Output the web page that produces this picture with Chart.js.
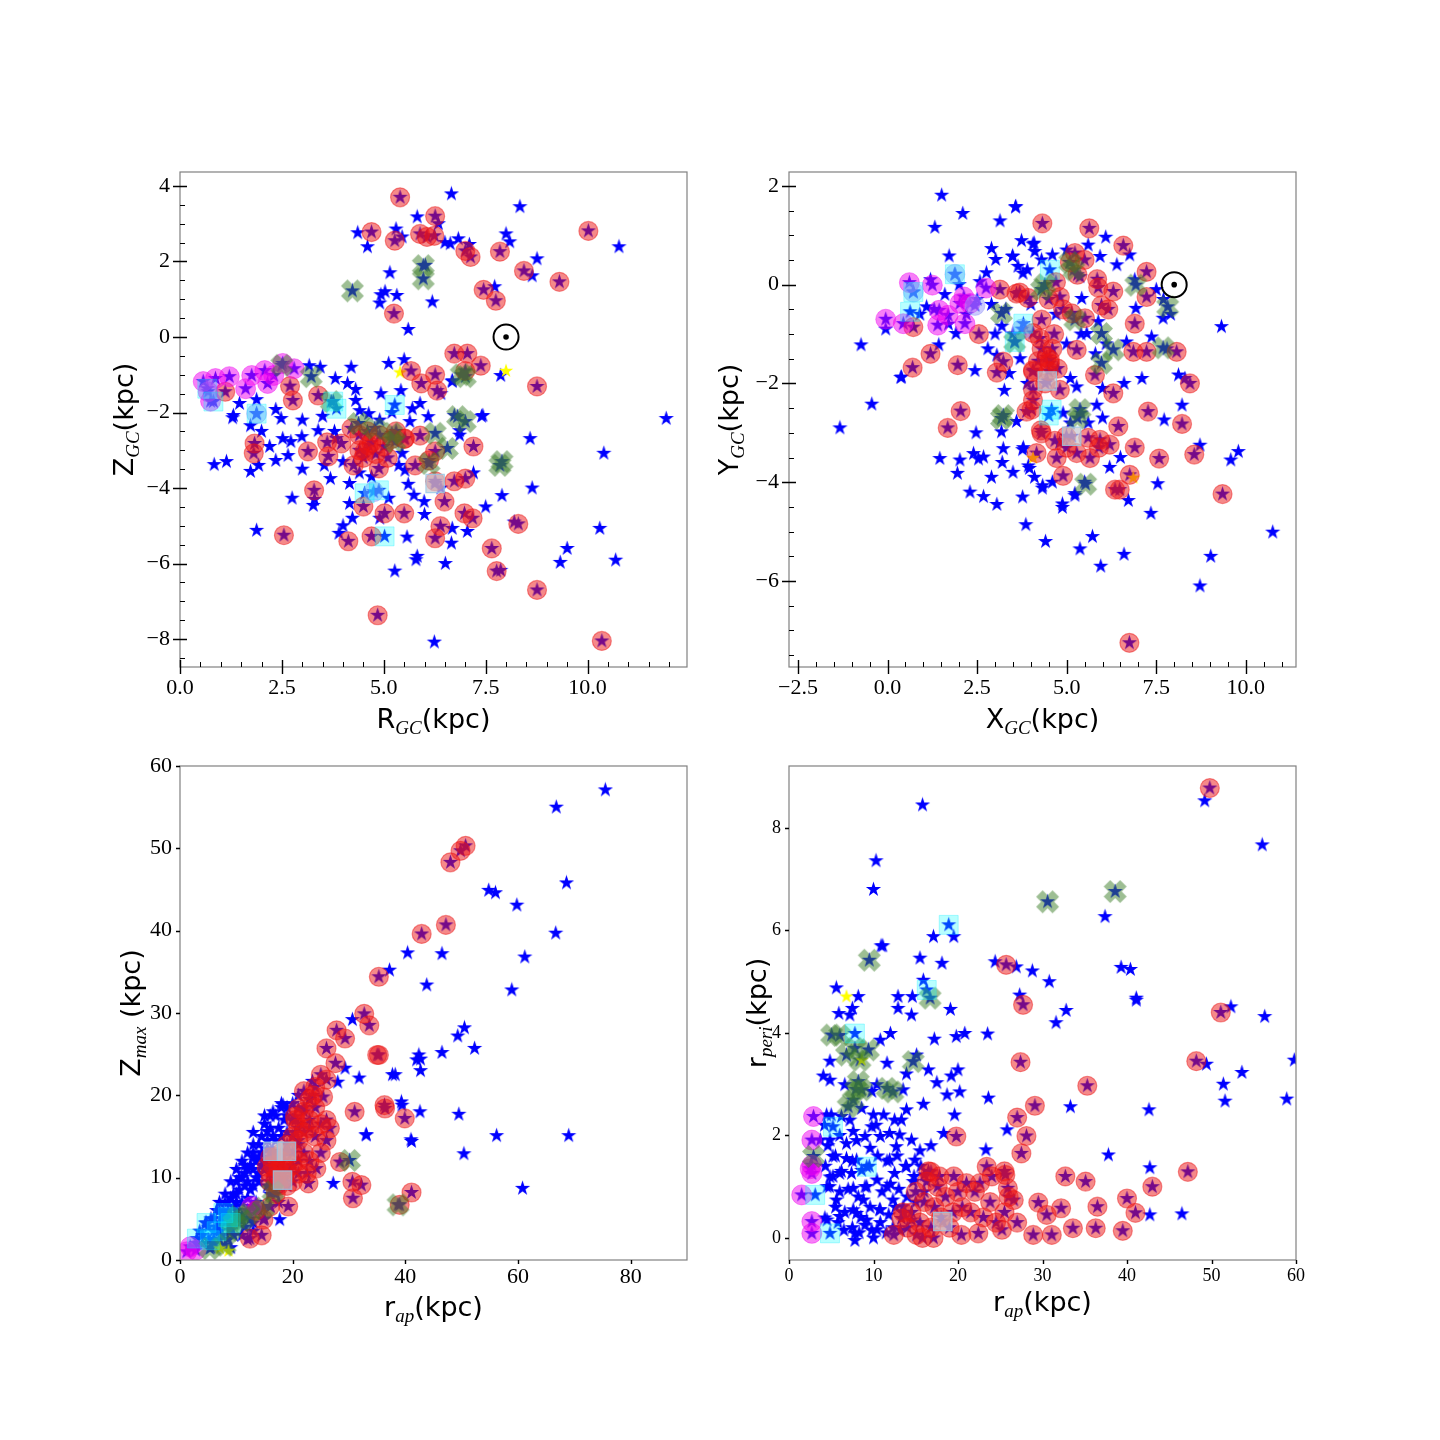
<!DOCTYPE html>
<html>
<head>
<meta charset="utf-8">
<script src="https://cdn.jsdelivr.net/npm/chart.js@4.4.1/dist/chart.umd.min.js"></script>
<style>
  body { margin: 0; background: #fff; }
  #wrap { position: relative; width: 1440px; height: 1440px; background: #fff; }
  canvas { position: absolute; }
</style>
</head>
<body>
<div id="wrap">
  <canvas id="tl"></canvas>
  <canvas id="tr"></canvas>
  <canvas id="bl"></canvas>
  <canvas id="br"></canvas>
</div>
<script>
// ---------------- data ----------------

// panel 1: R_GC vs Z_GC
var tlXTicks = [0, 2.5, 5, 7.5, 10];
var tlYTicks = [-8, -6, -4, -2, 0, 2, 4];
var tlStars = [[5.82,3.18],[4.36,2.76],[4.6,2.39],[5.3,2.86],[5.45,2.65],[5.15,1.7],[4.93,1.12],[5.03,1.2],[4.9,0.9],[5.32,1.1],[6.19,0.93],[6.02,1.9],[6.66,3.79],[8.34,3.45],[8.0,2.73],[8.09,2.52],[6.63,2.47],[6.83,2.6],[8.76,2.07],[10.77,2.39],[8.64,1.62],[7.72,1.33],[6.34,3.0],[6.5,2.5],[7.1,2.45],
  [5.12,-0.7],[7.87,-1.02],[6.68,-1.18],[11.93,-2.16],[6.73,-2.08],[7.43,-2.08],
  [3.17,-0.76],[3.44,-0.8],[3.81,-1.1],[4.11,-1.23],[4.31,-1.39],[4.93,-1.5],[5.42,-1.42],[5.89,-1.76],[4.31,-1.68],[1.88,-1.66],[1.46,-1.76],[2.35,-1.92],[1.31,-2.08],[4.41,-1.95],[4.63,-2.03],[6.09,-2.11],[5.64,-2.24],
  [0.84,-3.38],[1.14,-3.3],[1.29,-2.14],[1.73,-2.35],[1.73,-3.56],[1.93,-3.4],[2.35,-3.27],[2.48,-2.16],[2.52,-2.69],[2.65,-3.14],[2.72,-2.77],[2.99,-2.64],[2.75,-4.27],[3.27,-4.46],[1.88,-5.12],[3.69,-3.75],[4.16,-3.88],[4.16,-4.41],[4.23,-4.8],[5.12,-4.27],[5.57,-5.3],[5.74,-4.19],[5.99,-4.36],[6.68,-5.07],[6.66,-5.46],[7.05,-5.15],[5.82,-5.81],
  [5.45,-3.08],[5.37,-3.4],[5.52,-3.53],[3.39,-2.48],[3.79,-2.5],[3.84,-2.69],[3.54,-3.4],[6.86,-2.48],[6.86,-2.6],[6.68,-1.16],
  [5.27,-6.2],[5.79,-5.9],[6.51,-6.0],[6.24,-8.08],[7.87,-6.18],[9.33,-5.97],[10.69,-5.91],[10.3,-5.07],[9.5,-5.6],[10.4,-3.08],[8.59,-2.69],[8.64,-4.0],[7.4,-2.1],[7.2,-3.6],[7.5,-4.5],[8.2,-4.9],[7.9,-4.2],[6.0,-4.7],[6.4,-4.0],[5.6,-3.9],[4.0,-3.3],[3.0,-3.5],[2.2,-2.9],[4.9,-2.2],[5.2,-2.0],[5.7,-1.9],[6.4,-1.5],[4.4,-3.6],[4.7,-3.7],[4.9,-4.8],[3.3,-4.3],[3.0,-2.2],[3.5,-2.1],[2.0,-2.5],[4.2,-0.8],[5.6,0.2],[5.5,-0.6],[3.9,-5.2],[4.0,-5.0]];
var tlRed = [[5.4,3.7],[4.7,2.78],[5.27,2.55],[5.89,2.73],[6.06,2.65],[6.26,3.2],[6.24,2.68],[7.0,2.28],[7.13,2.12],[7.85,2.26],[10.02,2.81],[8.44,1.75],[9.31,1.46],[7.45,1.25],[7.75,0.96],[5.25,0.62],
  [6.73,-0.44],[7.05,-0.44],[7.38,-0.76],[7.0,-0.9],[5.67,-0.9],[6.26,-1.0],[5.92,-1.23],[6.31,-1.42],[8.76,-1.31],
  [2.7,-1.3],[2.77,-1.68],[3.39,-1.55],[1.11,-1.45],
  [1.83,-2.82],[1.81,-3.08],[3.14,-3.03],[3.61,-2.79],[3.64,-3.16],[3.96,-2.82],[4.26,-3.4],[4.53,-3.03],[4.88,-3.48],[4.21,-2.42],[4.4,-2.6],[4.6,-2.5],[4.7,-2.8],[4.9,-2.6],[4.5,-3.2],[4.8,-3.1],[5.0,-2.9],[5.1,-3.2],[5.3,-2.5],[5.5,-2.7],[5.2,-2.7],[4.63,-2.87],[4.4,-3.0],[5.52,-2.69],[5.89,-2.61],[5.77,-3.4],[6.11,-3.27],[6.26,-3.03],
  [3.29,-4.06],[2.55,-5.25],[4.13,-5.41],[4.7,-5.28],[5.02,-4.67],[5.5,-4.67],[4.5,-4.49],[6.26,-3.82],[6.49,-4.36],[6.73,-3.82],[7.0,-3.75],[6.98,-4.67],[6.39,-5.01],[6.26,-5.33],[7.18,-4.8],[7.2,-2.9],
  [4.85,-7.37],[7.77,-6.2],[8.76,-6.7],[10.35,-8.05],[7.65,-5.6],[8.3,-4.95]];
var tlGreen = [[4.23,1.22],[5.97,1.89],[5.97,1.54],[7.0,-1.05],[3.22,-1.05],[3.71,-1.71],[4.38,-2.29],[4.78,-2.42],[5.2,-2.55],[5.27,-2.77],[6.26,-2.55],[6.56,-2.95],[6.11,-3.35],[6.81,-2.11],[7.0,-2.24],[7.85,-3.4],[7.9,-3.3],[6.9,-1.0],[2.5,-0.75]];
var tlMagenta = [[0.57,-1.18],[0.87,-1.1],[1.21,-1.05],[1.61,-1.37],[1.76,-1.02],[2.15,-1.23],[2.08,-0.89],[2.52,-0.7],[2.8,-0.84],[2.3,-1.02],[0.69,-1.45],[0.75,-1.7]];
var tlLilac = [[1.88,-2.03],[4.75,-4.1]];
var tlCyan = [[0.67,-1.37],[0.82,-1.71],[3.76,-1.71],[3.84,-1.9],[5.27,-1.8],[4.53,-4.14],[4.88,-4.06],[5.02,-5.28],[1.88,-2.03]];
var tlGray = [[6.26,-3.88]];
var tlYellow = [[5.4,-0.94],[8.0,-0.9]];
var tlSun = [[8, 0]];

// panel 2: X_GC vs Y_GC
var trXTicks = [-2.5, 0, 2.5, 5, 7.5, 10];
var trYTicks = [-6, -4, -2, 0, 2];
var trStars = [[1.51,1.81],[2.1,1.44],[1.32,1.16],[3.14,1.29],[3.57,1.57],[3.74,0.89],[4.06,0.82],[2.9,0.73],[3.02,0.51],[3.49,0.58],[1.72,0.58],[3.64,0.37],[2.76,0.24],[3.78,0.23],[2.58,0.06],[1.09,-0.45],[-0.05,-0.9],[-0.74,-1.22],[0.37,-1.88],[-0.44,-2.42],[-1.33,-2.9],[1.43,-1.22],[1.91,-0.99],[2.44,-1.74],[3.26,-2.14],[3.05,-1.43],[3.6,-2.77],[3.19,-0.84],
  [3.58,1.58],[4.09,0.84],[4.11,0.67],[6.09,0.96],[5.93,0.57],[6.76,0.6],[3.49,0.57],[5.37,0.16],[5.42,-0.28],[6.93,-0.48],[7.69,-0.68],[9.32,-0.85],[5.88,-0.75],[5.56,-0.99],[7.37,-1.06],[6.67,-1.16],[8.12,-1.83],[8.22,-2.44],[7.72,-2.74],[8.72,-3.25],[9.58,-3.55],[9.79,-3.38],[5.84,-2.44],[5.28,-2.07],[3.79,-3.3],[3.93,-3.67],[4.33,-4.07],[3.77,-4.3],[4.88,-4.44],[5.23,-4.23],[6.72,-4.37],[7.54,-4.03],[7.35,-4.63],
  [0.39,-1.87],[2.47,-3.0],[1.46,-3.52],[2.02,-3.55],[2.4,-3.42],[2.54,-3.53],[2.68,-3.49],[1.95,-3.82],[2.3,-4.2],[2.68,-4.29],[3.05,-4.45],[3.86,-4.86],[4.41,-5.2],[5.37,-5.35],[5.72,-5.1],[4.88,-4.51],[4.32,-4.12],[3.77,-3.34],[3.18,-2.98],[3.23,-3.32],[3.96,-3.72],[5.23,-4.27],
  [10.75,-5.01],[9.02,-5.5],[8.72,-6.1],[6.6,-5.46],[5.95,-5.7],[8.3,-1.9],[0.9,-0.6],[1.3,-0.5],[1.7,-0.8],[2.2,-0.6],[2.5,-0.3],[2.9,-0.4],[3.3,-0.5],[3.5,-1.0],[3.0,-1.0],[2.8,-1.3],[3.4,-1.8],[3.7,-1.5],[4.9,-2.6],[5.1,-2.8],[5.6,-2.8],[5.0,-1.2],[5.1,-1.9],[5.4,-1.0],[5.8,-1.4],[6.1,-1.2],[4.0,-0.4],[4.7,-0.6],[3.9,-2.0],[4.8,-3.2],[5.4,-2.6],[6.0,-2.7],[6.5,-3.5],[6.2,-3.7],[5.5,-4.0],[4.6,-4.0],[4.1,-3.9],[3.5,-3.8],[3.2,-3.6],[2.9,-3.9],[1.2,0.1],[1.6,-0.2],[2.0,0.0],[3.9,0.3],[4.3,0.5],[4.6,0.6],[5.0,0.7],[5.6,0.8],[6.4,0.4],[6.9,0.1],[7.5,-0.1],[7.7,-0.3],[7.9,-0.6],[7.8,-1.3],[7.1,-1.9],[6.6,-2.0],[6.0,-2.1]];
var trRed = [[4.32,1.24],[5.63,1.14],[6.58,0.79],[7.23,0.26],[7.23,-0.25],[5.85,0.11],[6.3,-0.14],[5.97,-0.42],[6.9,-0.79],[5.09,0.45],[5.23,0.64],[4.81,-0.25],[3.6,-0.18],[3.92,-0.27],[5.14,-0.58],[5.51,-0.68],[4.3,-0.71],[4.25,-1.09],[5.28,-1.32],[4.53,-1.59],[4.06,-1.76],[5.79,-1.83],[6.3,-2.2],[6.86,-1.36],[7.23,-1.36],[8.07,-1.36],[8.44,-2.0],[7.27,-2.57],[8.22,-2.82],[4.06,-2.34],[3.88,-2.57],[4.3,-3.01],[4.99,-3.07],[5.28,-3.41],[5.93,-3.14],[6.2,-3.24],[6.44,-2.87],[6.9,-3.3],[7.58,-3.52],[8.56,-3.44],[4.16,-3.41],[4.72,-3.51],[5.65,-3.51],[4.9,-3.87],[6.76,-3.85],[6.48,-4.15],[9.35,-4.24],
  [0.72,-0.86],[2.55,-1.0],[1.2,-1.4],[0.7,-1.68],[1.96,-1.63],[3.05,-1.78],[3.23,-1.56],[2.04,-2.56],[1.68,-2.9],[4.02,-2.53],[3.14,-0.1],[4.06,-0.98],[4.06,-1.73],[4.28,-2.95],[4.67,-3.16],[6.35,-4.15],[5.88,-0.06],[6.16,-0.5],[4.53,-1.52],[4.81,-2.13],[4.06,-2.13],[3.69,-0.16],[4.44,-1.47],[4.6,-1.3],[4.3,-1.3],[4.5,-1.75],[4.75,-1.7],[4.4,-2.0],[4.2,-1.55],[4.65,-1.0],[4.9,-0.5],[4.5,-0.3],[5.5,0.5],[5.3,0.2],[4.7,0.05],[6.75,-7.25],[5.6,-3.1],[5.9,-3.3],[5.0,-3.3]];
var trGreen = [[3.18,-0.58],[3.55,-1.16],[3.18,-2.71],[5.09,0.45],[4.39,0.0],[6.93,-0.01],[7.82,-0.45],[5.97,-0.99],[6.3,-1.32],[5.97,-1.59],[7.69,-1.28],[5.23,-0.71],[5.37,-2.53],[5.3,-2.7],[5.53,-4.04],[3.23,-2.65],[5.2,0.3],[4.3,-0.1]];
var trMagenta = [[0.61,0.04],[1.25,-0.01],[-0.05,-0.7],[0.44,-0.79],[1.44,-0.52],[1.69,-0.62],[1.4,-0.82],[2.13,-0.25],[2.02,-0.38],[2.16,-0.79],[2.75,-0.07],[2.3,-0.38]];
var trLilac = [[0.72,-0.15],[1.88,0.21],[2.44,-0.42],[3.75,-0.9]];
var trCyan = [[0.72,-0.15],[1.88,0.21],[0.63,-0.55],[3.79,-0.79],[3.55,-1.16],[4.53,0.3],[4.58,-2.53],[4.5,-2.65]];
var trGray = [[5.14,-3.07],[4.46,-1.95]];
var trYellow = [[4.06,-3.51],[6.86,-3.91]];
var trSun = [[8, 0]];

// panel 3: r_ap vs Z_max
var blXTicks = [0, 20, 40, 60, 80];
var blYTicks = [0, 10, 20, 30, 40, 50, 60];
var blStars = [[75.5,57.1],[66.8,55.0],[68.6,45.8],[54.8,44.9],[56.0,44.6],[59.8,43.1],[61.2,36.8],[58.9,32.8],[66.7,39.7],[46.5,37.2],[43.8,33.4],[40.4,37.3],[37.2,35.2],[50.5,28.2],[49.3,27.2],[52.3,25.7],[49.5,17.7],[50.4,12.9],[56.2,15.1],[69.0,15.1],[60.8,8.7],[42.6,18.0],[41.0,14.6],[39.4,18.8],[38.2,22.5],[42.0,24.3],[42.4,24.9],[33.0,15.2],[29.3,23.3],[28.0,21.6],
  [30.6,29.2],[23.5,21.7],[18.3,18.8],[15.5,15.6],[13.0,13.0],[27.2,9.3],[17.7,4.9],[31.8,22.1],[33.1,15.2],[37.7,22.5],[39.3,19.2],[41.1,14.4],[42.7,24.4],[42.7,23.0],[46.5,25.2],
  [3,2],[4,3],[4.5,4.5],[5,2.5],[5.5,5],[6,3.5],[6.5,6],[7,4.5],[7,7],[7.5,3],[8,5.5],[8,8],[8.5,7],[9,4],[9,9.5],[9.5,6.5],[10,8],[10,11],[10.5,5],[10.5,10],[11,7],[11,12],[11.5,9],[12,6],[12,13],[12.5,8.5],[13,11],[13,14],[13.5,7],[14,9.5],[14,12.5],[14.5,15],[15,5],[15,11],[15.5,13.5],[16,8],[16,16],[16.5,10.5],[17,14.5],[17,17.5],[17.5,7],[18,12],[18,18.5],[19,15.5],[19.5,11],[20,17],[21,14],[22,18.5],[6,2],[8.5,2.5],[11,3],[13,4.5],[9,1.5],[12,2.5],
  [6.5,4],[7.5,5],[8.5,6],[9.5,8],[10.5,8.5],[11.5,10.5],[12.5,11.5],[13.5,12],[14.5,13],[15.5,14.5],[16.5,15],[10,6],[11,5.5],[12,7.5],[13,9],[14,10.5],[15,12],[16,13],[17,12.5],[18,15],[19,17.5],[20,19],[5,4],[4,2],[6,5],[7,6],[8,7],[9,7.5],[3.5,3.5],[10,9.5],[11.5,11.5],[12,9.5],[13.5,10],[14.5,11.5],[15.5,9],[16.5,12],[17.5,16],[18.5,17],[19,13],[20.5,15.5],[21.5,16.5],[23,19.5],[21,20],[17,9],[18,10],[16,6.5],[14,6],[12.5,5],[13,3.5],[11.5,4],[9.5,3],[7,2.5],[5.5,1.5],[15,16.5],[14,14],[13,12.5],[12,11],[11,10],[10,7],[9,5.5],[8,4.5],[7,3.5],[6,2.5],[16,17.5],[19,18.5],[16.5,18],[18,19],[15,17.5],[13,15.5]];
var blRed = [[32.7,29.9],[33.6,28.5],[27.8,27.9],[29.3,26.9],[26.0,25.7],[27.6,23.9],[35.0,24.9],[26.0,21.9],[23.6,20.0],[25.4,19.8],[21.0,18.4],[20.4,17.4],[26.0,17.0],[26.6,16.0],[31.0,18.0],[36.3,18.8],[36.4,18.4],[39.9,17.2],[16.0,12.5],[15.4,11.3],[18.3,11.3],[24.2,11.1],[22.5,10.5],[22.8,9.3],[28.4,11.9],[30.6,9.5],[32.2,9.1],[30.7,7.5],[41.1,8.2],[39.0,6.7],[19.2,6.5],[14.8,4.9],[14.5,3.0],[12.4,2.6],[48.0,48.3],[49.8,49.7],[50.7,50.3],[47.2,40.7],[42.9,39.6],[35.3,34.4],[35.3,24.9],
  [16,9.5],[17,10],[17.5,11],[18,12],[16.5,11.5],[17,12.5],[18.5,10],[19,11],[16,10.5],[17.5,9],[18,13],[19,14],[20,15],[21,16],[20,13],[21,14.5],[22,15.5],[20.5,17],[22,18],[23,17],[24,18.5],[23,16],[24,15],[25,16.5],[22,13],[23,12],[25,13],[20,11.5],[21,12],[19,9],[20,9.5],[21,10.5],[17,8],[23,19.5],[24,21],[25,22.5],[22,20.5],[26,14.5],[13.5,6],[16,6.5]];
var blGreen = [[30.1,12.1],[16.5,8.3],[14.8,6.3],[10.3,5.3],[8.9,3.6],[38.7,6.7],[5.3,1.4],[9.5,4.5],[11.0,4.8],[12.2,5.6],[8.0,1.8]];
var blMagenta = [[1.8,1.6],[2.8,1.2],[1.2,1.0],[12.7,6.5]];
var blCyan = [[7.7,5.7],[4.7,4.5],[3.0,2.6],[5.3,2.4],[9.0,4.5],[8.5,5.2],[6.5,3.5]];
var blGray = [[16.5,13.2],[18.9,13.2],[18.2,9.7]];
var blYellow = [[8.6,1.1],[7.1,1.4]];

// panel 4: r_ap vs r_peri
var brXTicks = [0, 10, 20, 30, 40, 50, 60];
var brYTicks = [0, 2, 4, 6, 8];
var brStars = [[52.3,4.51],[56.3,4.32],[59.8,3.47],[49.4,3.39],[53.6,3.23],[51.4,3.0],[51.6,2.67],[58.9,2.71],[42.6,2.5],[37.8,1.62],[42.7,1.37],[42.7,0.45],[46.5,0.47],[41.1,4.64],
  [49.2,8.53],[56.0,7.67],[15.8,8.45],[10.3,7.36],[10.0,6.8],[10.9,5.7],[17.1,5.88],[19.5,5.88],[11.1,5.7],[15.5,5.46],[18.1,5.36],[24.4,5.39],[26.9,5.29],[28.8,5.21],[30.8,5.0],[37.4,6.27],[39.3,5.28],[40.4,5.24],[41.1,4.68],[27.3,4.74],[32.8,4.44],
  [5.6,4.88],[8.2,4.71],[7.5,4.48],[5.9,4.38],[12.9,4.71],[14.6,4.71],[12.9,4.48],[14.5,4.35],[15.9,5.03],[19.1,4.46],[7.2,4.35],[31.6,4.2],[4.85,3.45],[4.06,3.16],[4.85,3.08],[6.6,2.99],[10.8,3.86],[12.0,3.99],[17.2,3.88],[19.8,3.93],[20.8,3.99],[23.5,3.98],[11.6,3.41],[10.4,2.99],[16.5,3.28],[17.5,3.03],[19.2,3.16],[20.0,3.28],[20.2,2.85],[18.7,2.79],[15.9,2.61],[13.9,2.5],[13.5,2.89],[15.1,3.57],[13.9,3.2],[23.6,2.73],[33.3,2.56],[25.8,2.11],[23.3,1.72],[18.3,2.04],[19.6,2.4],
  [9.98,2.4],[9.8,2.17],[10.8,1.98],[9.6,1.75],[8.0,1.52],[5.2,1.59],[6.0,1.26],[7.6,0.97],[8.8,0.74],[8.0,0.48],[7.8,0.09],[9.2,0.35],[10.4,0.16],[10.8,0.55],[11.6,1.0],[12.5,1.26],[11.9,1.52],[12.7,1.78],[13.1,2.01],[14.5,1.91],[14.9,1.52],[13.9,1.39],[14.7,1.1],[16.0,1.23],[12.3,0.74],[13.5,0.61],[4.5,1.0],[4.85,1.19],[5.6,0.74],[6.0,0.42],[4.25,0.39],[6.8,1.84],[4.85,1.91],[7.6,2.08],[9.0,1.98],[6.2,2.37],[8.6,2.53],[9.8,2.86],[4.45,2.4],[3.7,1.91],[6.8,1.55],[8.6,1.32],[10.4,1.13],[9.2,1.0],[7.4,1.26],[13.3,2.3],[11.9,2.04],
  [4.2,2.2],[5.0,2.4],[6.0,2.0],[7.2,2.3],[4.6,1.8],[5.5,1.6],[8.0,1.9],[10.3,2.2],[11.2,2.4],[12.5,2.3],[15.5,1.7],[16.8,1.8],[4.3,1.4],[5.2,1.2],[6.2,1.3],[7.5,1.5],[9.5,1.4],[10.5,1.6],[11.6,1.5],[12.8,1.6],[13.8,1.4],[14.8,1.2],[15.6,1.4],[4.8,1.0],[6.0,0.9],[7.0,0.95],[8.2,0.8],[9.0,1.0],[11.0,0.9],[12.0,1.05],[13.0,0.95],[14.0,0.8],[15.0,0.7],[16.0,0.9],[5.5,0.6],[6.6,0.5],[7.6,0.55],[8.5,0.4],[9.6,0.6],[10.7,0.55],[11.8,0.45],[12.6,0.6],[13.6,0.5],[14.5,0.35],[7.5,0.2],[8.3,0.1],[9.0,0.25],[9.8,0.15],[10.8,0.3],[11.5,0.1],[12.3,0.2],[13.2,0.15],[7.8,-0.05],[10.0,0.0],[4.5,0.35],[5.8,0.3],[6.5,0.15]];
var brRed = [[49.8,8.78],[51.1,4.4],[48.2,3.45],[47.2,1.29],[43.0,1.0],[40.0,0.77],[41.0,0.49],[39.5,0.14],[36.3,0.19],[36.5,0.61],[35.1,1.1],[35.3,2.97],[27.7,4.55],[27.4,3.43],[29.1,2.58],[27.0,2.35],[28.1,1.99],[27.5,1.65],[19.8,1.98],[23.4,1.39],[25.6,1.23],[32.7,1.2],[16.8,1.29],[21.0,1.07],[22.6,1.07],[25.9,0.97],[26.6,0.74],[29.5,0.69],[30.5,0.45],[32.2,0.58],[33.6,0.19],[31.1,0.06],[28.9,0.06],[25.2,0.16],[22.4,0.09],[20.4,0.06],[17.1,0],[15.1,0.06],[12.4,0.06],[13.3,0.38],[25.7,5.33],
  [14.5,0.5],[15.0,0.9],[15.5,0.3],[16.0,0.7],[16.3,1.1],[16.8,0.2],[17.2,0.6],[17.6,1.0],[18.0,0.4],[18.5,0.8],[19.0,0.2],[19.4,0.5],[15.8,0.0],[20.0,0.9],[20.5,0.6],[14.0,0.2],[13.5,0.5],[16.5,1.3],[17.8,1.2],[19.5,1.2],[21.5,0.5],[22.0,0.9],[23.0,0.4],[23.8,0.7],[24.5,0.3],[25.5,0.5],[26.0,0.8],[27.0,0.3],[24.0,1.2],[25.5,1.3]];
var brGreen = [[5.05,3.96],[6.8,3.57],[8.4,3.47],[7.8,3.7],[9.4,3.67],[14.7,3.44],[8.2,3.05],[8.6,2.89],[7.6,2.69],[7.0,2.56],[11.6,2.92],[12.3,2.85],[2.9,1.59],[9.5,5.42],[30.6,6.56],[38.6,6.76],[16.7,4.68],[6.0,3.95],[7.9,2.9]];
var brMagenta = [[2.9,2.37],[2.7,1.91],[2.7,1.42],[2.7,1.26],[1.5,0.84],[2.7,0.32],[2.7,0.09],[2.5,1.35]];
var brCyan = [[5.2,2.17],[9.2,1.39],[3.1,0.84],[4.85,0.09],[7.8,3.99],[18.9,6.11],[16.3,4.84]];
var brGray = [[18.2,0.32]];
var brYellow = [[6.8,4.71],[8.6,3.47]];

// ---------------- marker images ----------------
function makeStar(size, color) {
    var c = document.createElement('canvas');
    c.width = size; c.height = size;
    var g = c.getContext('2d');
    var R = size / 2 - 0.5, r = R * 0.382, cx = size / 2, cy = size / 2;
    g.beginPath();
    for (var k = 0; k < 10; k++) {
        var rad = (k % 2 == 0) ? R : r;
        var a = -Math.PI / 2 + k * Math.PI / 5;
        var px = cx + rad * Math.cos(a), py = cy + rad * Math.sin(a);
        if (k == 0) g.moveTo(px, py); else g.lineTo(px, py);
    }
    g.closePath();
    g.fillStyle = color;
    g.fill();
    return c;
}

// filled "X" marker, about 'span' pixels wide
function makeX(span, color) {
    var c = document.createElement('canvas');
    c.width = span + 4; c.height = span + 4;
    var g = c.getContext('2d');
    var a = 0.2, h = 0.5;
    var s = span / (2 * (h + a) * Math.SQRT1_2);
    var v = [[-a,h],[a,h],[a,a],[h,a],[h,-a],[a,-a],[a,-h],[-a,-h],[-a,-a],[-h,-a],[-h,a],[-a,a]];
    var cs = Math.SQRT1_2;
    g.beginPath();
    v.forEach(function(p, i) {
        var x = (p[0] - p[1]) * cs * s + c.width / 2;
        var y = (p[0] + p[1]) * cs * s + c.height / 2;
        if (i == 0) g.moveTo(x, y); else g.lineTo(x, y);
    });
    g.closePath();
    g.fillStyle = color;
    g.fill();
    return c;
}

var blueStar = makeStar(17, '#0000ff');
var yellowStar = makeStar(16, '#ffff00');
var greenX = makeX(23, 'rgba(60,125,40,0.5)');

function pts(arr) { return arr.map(function(p) { return {x: p[0], y: p[1]}; }); }

function minus(v) { return String(v).replace('-', '\u2212'); }

// ---------------- frame, ticks and axis titles ----------------
var framePlugin = {
    id: 'frame',
    afterDraw: function(chart) {
        var o = chart.options.plugins.frame;
        var a = chart.chartArea, g = chart.ctx;
        var xs = chart.scales.x, ys = chart.scales.y;
        g.save();
        g.strokeStyle = '#808080';
        g.lineWidth = 1.2;
        g.strokeRect(a.left, a.top, a.right - a.left, a.bottom - a.top);
        g.strokeStyle = '#000';
        // major ticks
        g.lineWidth = 1.4;
        g.beginPath();
        xs.ticks.forEach(function(t) {
            var p = Math.round(xs.getPixelForValue(t.value)) + 0.5;
            g.moveTo(p, a.bottom - o.majIn); g.lineTo(p, a.bottom + o.majOut);
        });
        ys.ticks.forEach(function(t) {
            var p = Math.round(ys.getPixelForValue(t.value)) + 0.5;
            g.moveTo(a.left + o.majIn, p); g.lineTo(a.left - o.majOut, p);
        });
        g.stroke();
        // minor ticks
        if (o.minor) {
            g.lineWidth = 1;
            g.beginPath();
            var m = o.minor;
            for (var v = m.x[0]; v <= m.x[1] + 1e-9; v += m.x[2]) {
                var p = Math.round(xs.getPixelForValue(v)) + 0.5;
                g.moveTo(p, a.bottom); g.lineTo(p, a.bottom - 5);
            }
            for (var w = m.y[0]; w <= m.y[1] + 1e-9; w += m.y[2]) {
                var q = Math.round(ys.getPixelForValue(w)) + 0.5;
                g.moveTo(a.left, q); g.lineTo(a.left + 5, q);
            }
            g.stroke();
        }
        // axis titles with subscripts
        function parts(list) {
            var w = 0;
            list.forEach(function(p) {
                g.font = p[1] == 's' ? 'italic 19px "Liberation Serif"' : '27px "DejaVu Sans"';
                p.w = g.measureText(p[0]).width;
                w += p.w;
            });
            return w;
        }
        function drawParts(list, x0, base) {
            var x = x0;
            list.forEach(function(p) {
                g.font = p[1] == 's' ? 'italic 19px "Liberation Serif"' : '27px "DejaVu Sans"';
                g.fillText(p[0], x, p[1] == 's' ? base + 6 : base);
                x += p.w;
            });
        }
        g.fillStyle = '#000';
        g.textBaseline = 'alphabetic';
        g.textAlign = 'left';
        var tw = parts(o.xTitle);
        drawParts(o.xTitle, (a.left + a.right) / 2 - tw / 2, a.bottom + o.xBase);
        g.save();
        g.translate(a.left - o.yBase, (a.top + a.bottom) / 2);
        g.rotate(-Math.PI / 2);
        var th = parts(o.yTitle);
        drawParts(o.yTitle, -th / 2, 0);
        g.restore();
        g.restore();
    }
};

function makePanel(id, rect, cfg) {
    var cv = document.getElementById(id);
    var padL = 100, padT = 20, padR = 20, padB = 80;
    cv.width = rect[2] + padL + padR;
    cv.height = rect[3] + padT + padB;
    cv.style.left = (rect[0] - padL) + 'px';
    cv.style.top = (rect[1] - padT) + 'px';

    var stars = cfg.stars.concat(cfg.red, cfg.green, cfg.magenta, cfg.lilac || [], cfg.cyan, cfg.gray);
    var ds = [
        {data: pts(stars), pointStyle: blueStar, pointRadius: 6, order: 10},
        {data: pts(cfg.yellow), pointStyle: yellowStar, pointRadius: 6, order: 9},
        {data: pts(cfg.red), pointStyle: 'circle', pointRadius: 9.5, backgroundColor: 'rgba(235,20,20,0.5)', borderColor: 'rgba(235,20,20,0.45)', borderWidth: 1.2, order: 8},
        {data: pts(cfg.magenta), pointStyle: 'circle', pointRadius: 10, backgroundColor: 'rgba(240,0,240,0.5)', borderColor: 'rgba(240,0,240,0.4)', borderWidth: 1, order: 7},
        {data: pts(cfg.lilac || []), pointStyle: 'circle', pointRadius: 10, backgroundColor: 'rgba(150,150,250,0.5)', borderColor: 'rgba(150,150,250,0.4)', borderWidth: 1, order: 6},
        {data: pts(cfg.green), pointStyle: greenX, pointRadius: 8, order: 5},
        {data: pts(cfg.cyan), pointStyle: 'rect', pointRadius: 13.4, backgroundColor: 'rgba(0,255,255,0.28)', borderColor: 'rgba(0,235,255,0.3)', borderWidth: 1, order: 4},
        {data: pts(cfg.gray), pointStyle: 'rect', pointRadius: 13, backgroundColor: 'rgba(200,200,208,0.7)', borderColor: 'rgba(150,200,230,0.8)', borderWidth: 1.2, order: 3}
    ];
    if (cfg.sun) {
        ds.push({data: pts(cfg.sun), pointStyle: 'circle', pointRadius: 12.5, backgroundColor: 'rgba(0,0,0,0)', borderColor: '#000', borderWidth: 2, order: 1});
        ds.push({data: pts(cfg.sun), pointStyle: 'circle', pointRadius: 2.8, backgroundColor: '#000', borderColor: '#000', borderWidth: 0, order: 0});
    }

    function fixBox(w, h) {
        return function(s) {
            if (w) s.width = w;
            if (h) s.height = h;
            s.paddingLeft = 0; s.paddingRight = 0; s.paddingTop = 0; s.paddingBottom = 0;
        };
    }
    function setTicks(arr) {
        return function(s) { s.ticks = arr.map(function(v) { return {value: v}; }); };
    }
    var font = {family: 'Liberation Serif', size: cfg.fontSize};

    new Chart(cv, {
        type: 'scatter',
        data: {datasets: ds},
        plugins: [framePlugin],
        options: {
            responsive: false,
            animation: false,
            events: [],
            layout: {padding: {top: padT, right: padR, left: 0, bottom: 0}},
            plugins: {
                legend: {display: false},
                tooltip: {enabled: false},
                frame: cfg.frame
            },
            scales: {
                x: {
                    type: 'linear', min: cfg.x[0], max: cfg.x[1],
                    grid: {display: false, drawTicks: false},
                    border: {display: false},
                    afterFit: fixBox(0, padB),
                    afterBuildTicks: setTicks(cfg.xTicks),
                    ticks: {font: font, color: '#000', padding: cfg.xPad, maxRotation: 0, autoSkip: false, callback: cfg.fx}
                },
                y: {
                    type: 'linear', min: cfg.y[0], max: cfg.y[1],
                    grid: {display: false, drawTicks: false},
                    border: {display: false},
                    afterFit: fixBox(padL, 0),
                    afterBuildTicks: setTicks(cfg.yTicks),
                    ticks: {font: font, color: '#000', padding: cfg.yPad, autoSkip: false, callback: cfg.fy}
                }
            }
        }
    });
}

var oneDec = function(v) { return minus(Number(v).toFixed(1)); };
var whole = function(v) { return minus(v); };

makePanel('tl', [180, 172, 507, 495], {
    x: [0, 12.44], y: [-8.74, 4.37], xTicks: tlXTicks, yTicks: tlYTicks,
    stars: tlStars, red: tlRed, green: tlGreen, magenta: tlMagenta, lilac: tlLilac, cyan: tlCyan, gray: tlGray, yellow: tlYellow, sun: tlSun,
    fontSize: 22, xPad: 8, yPad: 10, fx: oneDec, fy: whole,
    frame: {majIn: 7, majOut: 7, minor: {x: [0.5, 12, 0.5], y: [-8.5, 4, 0.5]},
        xTitle: [['R','m'],['GC','s'],['(kpc)','m']], yTitle: [['Z','m'],['GC','s'],['(kpc)','m']], xBase: 61, yBase: 47}
});
makePanel('tr', [789, 172, 507, 495], {
    x: [-2.75, 11.4], y: [-7.74, 2.28], xTicks: trXTicks, yTicks: trYTicks,
    stars: trStars, red: trRed, green: trGreen, magenta: trMagenta, lilac: trLilac, cyan: trCyan, gray: trGray, yellow: trYellow, sun: trSun,
    fontSize: 22, xPad: 8, yPad: 10, fx: oneDec, fy: whole,
    frame: {majIn: 7, majOut: 7, minor: {x: [-2.5, 11, 0.5], y: [-7.5, 2, 0.5]},
        xTitle: [['X','m'],['GC','s'],['(kpc)','m']], yTitle: [['Y','m'],['GC','s'],['(kpc)','m']], xBase: 61, yBase: 51}
});
makePanel('bl', [180, 766, 507, 494], {
    x: [0, 90], y: [0, 60], xTicks: blXTicks, yTicks: blYTicks,
    stars: blStars, red: blRed, green: blGreen, magenta: blMagenta, cyan: blCyan, gray: blGray, yellow: blYellow,
    fontSize: 22, xPad: 4, yPad: 8, fx: whole, fy: whole,
    frame: {majIn: 0, majOut: 4, minor: null,
        xTitle: [['r','m'],['ap','s'],['(kpc)','m']], yTitle: [['Z','m'],['max','s'],[' (kpc)','m']], xBase: 56, yBase: 40}
});
makePanel('br', [789, 766, 507, 494], {
    x: [0, 60], y: [-0.43, 9.21], xTicks: brXTicks, yTicks: brYTicks,
    stars: brStars, red: brRed, green: brGreen, magenta: brMagenta, cyan: brCyan, gray: brGray, yellow: brYellow,
    fontSize: 18, xPad: 5, yPad: 8, fx: whole, fy: whole,
    frame: {majIn: 0, majOut: 4, minor: null,
        xTitle: [['r','m'],['ap','s'],['(kpc)','m']], yTitle: [['r','m'],['peri','s'],['(kpc)','m']], xBase: 51, yBase: 23}
});
</script>
</body>
</html>
